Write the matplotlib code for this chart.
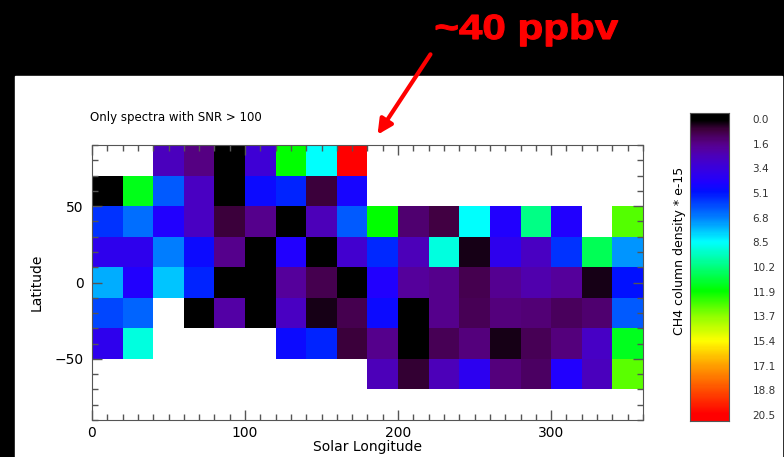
import numpy as np
import matplotlib
matplotlib.use("Agg")
import matplotlib.pyplot as plt
from matplotlib.colors import LinearSegmentedColormap
from matplotlib.patches import Rectangle, FancyArrowPatch, PathPatch
from matplotlib.textpath import TextPath
from matplotlib.font_manager import FontProperties
from matplotlib.transforms import Affine2D

nan = np.nan

# bin edges (solar longitude / latitude, 20 deg bins)
lon_edges = np.arange(0, 361, 20)
lat_edges = np.arange(-90, 91, 20)

# CH4 column density * e-15, rows from north (70..90) to south (-90..-70)
row_70_90 = [nan, nan, 2.6, 1.6, 0.0, 3.2, 11.9, 8.5, 20.5, nan, nan, nan, nan, nan, nan, nan, nan, nan]
row_50_70 = [0.0, 11.6, 6.2, 2.7, 0.0, 4.8, 5.3, 0.7, 4.5, nan, nan, nan, nan, nan, nan, nan, nan, nan]
row_30_50 = [5.6, 6.5, 4.3, 2.7, 0.7, 1.7, 0.0, 2.5, 6.2, 11.9, 1.3, 0.8, 8.5, 4.3, 10.1, 4.3, nan, 12.9]
row_10_30 = [3.8, 3.8, 6.8, 4.8, 1.7, 0.0, 4.3, 0.0, 3.0, 5.4, 2.5, 8.9, 0.3, 3.8, 2.7, 5.6, 10.8, 7.1]
row_m10_10 = [7.4, 4.3, 7.7, 5.3, 0.0, 0.0, 2.0, 0.9, 0.0, 4.3, 2.0, 1.7, 0.9, 1.8, 2.3, 2.0, 0.3, 5.0]
row_m30_m10 = [5.9, 6.4, nan, 0.0, 2.1, 0.0, 2.7, 0.3, 0.9, 4.8, 0.0, 1.7, 1.0, 1.5, 1.4, 1.1, 1.3, 6.2]
row_m50_m30 = [3.8, 8.9, nan, nan, nan, nan, 4.8, 5.3, 0.7, 1.7, 0.0, 1.0, 1.5, 0.3, 1.0, 1.5, 2.8, 11.5]
row_m70_m50 = [nan, nan, nan, nan, nan, nan, nan, nan, nan, 2.5, 0.6, 2.5, 3.9, 1.5, 1.2, 4.3, 2.6, 13.0]
row_m90_m70 = [nan] * 18

cbar_labels = ['0.0', '1.6', '3.4', '5.1', '6.8', '8.5', '10.2', '11.9',
               '13.7', '15.4', '17.1', '18.8', '20.5']

vmax = 20.5

# IDL-like rainbow table: black -> purple -> blue -> cyan -> green -> yellow -> red
nodes = [
    (0.0, '#000000'), (0.7, '#400040'), (1.5, '#550080'), (2.0, '#5500a0'),
    (2.7, '#4800c4'), (3.4, '#3800e0'), (4.3, '#2000ff'), (5.0, '#0010ff'),
    (6.8, '#0080ff'), (8.5, '#00ffff'), (10.2, '#00ff80'), (11.9, '#00ff00'),
    (13.7, '#90ff00'), (15.4, '#ffff00'), (17.1, '#ffa000'), (18.8, '#ff5000'),
    (20.5, '#ff0000'),
]
cmap = LinearSegmentedColormap.from_list('idl_rainbow', [(v / vmax, c) for v, c in nodes])
cmap.set_bad('white')

grid = np.array([row_m90_m70, row_m70_m50, row_m50_m30, row_m30_m10, row_m10_10,
                 row_10_30, row_30_50, row_50_70, row_70_90])
grid = np.ma.masked_invalid(grid)

W, H = 784, 457
fig = plt.figure(figsize=(W / 100, H / 100), dpi=100, facecolor='black')
# white slide panel behind everything
fig.add_artist(Rectangle((15 / W, 0), (782 - 15) / W, (457 - 76) / H,
                         transform=fig.transFigure, color='white', zorder=-10))

edge = '#555555'
ax = fig.add_axes([92 / W, 37 / H, (643 - 92) / W, (420 - 145) / H])
ax.pcolormesh(lon_edges, lat_edges, grid, cmap=cmap, vmin=0, vmax=vmax)
ax.set_xlim(0, 360)
ax.set_ylim(-90, 90)
ax.set_xticks([0, 100, 200, 300])
ax.set_xticks(np.arange(0, 361, 10), minor=True)
ax.set_yticks([-50, 0, 50])
ax.set_yticks(np.arange(-90, 91, 10), minor=True)
ax.tick_params(which='both', direction='in', top=True, right=True, color=edge,
               labelsize=10)
ax.tick_params(axis='x', pad=4)
ax.tick_params(axis='y', pad=6)
ax.tick_params(which='major', length=7, width=1)
ax.tick_params(which='minor', length=4, width=1)
for s in ax.spines.values():
    s.set_color(edge)
ax.set_xlabel('Solar Longitude', fontsize=10, labelpad=0)
ax.set_ylabel('Latitude', fontsize=10, labelpad=8)

fig.text(90 / W, 1 - 117 / H, 'Only spectra with SNR > 100', fontsize=8.5,
         ha='left', va='center')

# colour bar drawn as its own axis, 0 at top
pad = 0.021 * vmax
cax = fig.add_axes([690 / W, (457 - 421) / H, (729 - 690) / W, (421 - 113) / H])
grad = np.linspace(-pad, vmax + pad, 300).reshape(-1, 1)
cax.imshow(grad, aspect='auto', cmap=cmap, vmin=0, vmax=vmax,
           extent=[0, 1, vmax + pad, -pad])
cax.set_ylim(vmax + pad, -pad)
cax.set_xticks([])
cax.yaxis.tick_right()
cax.set_yticks(np.linspace(0, vmax, len(cbar_labels)))
cax.set_yticklabels(cbar_labels)
cax.tick_params(axis='y', length=0, pad=17, labelsize=7.5, labelcolor='#333333')
for s in cax.spines.values():
    s.set_color(edge)
fig.text(679 / W, 1 - 251 / H, 'CH4 column density * e-15', rotation=90,
         fontsize=9, ha='center', va='center')

# big red annotation, horizontally stretched like the slide
tp = TextPath((0, 0), '~40 ppbv', size=1,
              prop=FontProperties(family='Liberation Sans', weight='bold'))
ext = tp.get_extents()
sy = 25 / 0.716
sx = 182 / ext.width
tr = Affine2D().scale(sx, sy).translate(436 - ext.x0 * sx, H - 39)
fig.add_artist(PathPatch(tp, transform=tr, color='#ff0000', lw=0.8))

arrow = FancyArrowPatch((432 / W, 1 - 52 / H), (376 / W, 1 - 137 / H),
                        transform=fig.transFigure, arrowstyle='-|>',
                        mutation_scale=22, color='#ff0000', lw=3)
fig.add_artist(arrow)

fig.savefig('out.png', dpi=100, facecolor='black')
